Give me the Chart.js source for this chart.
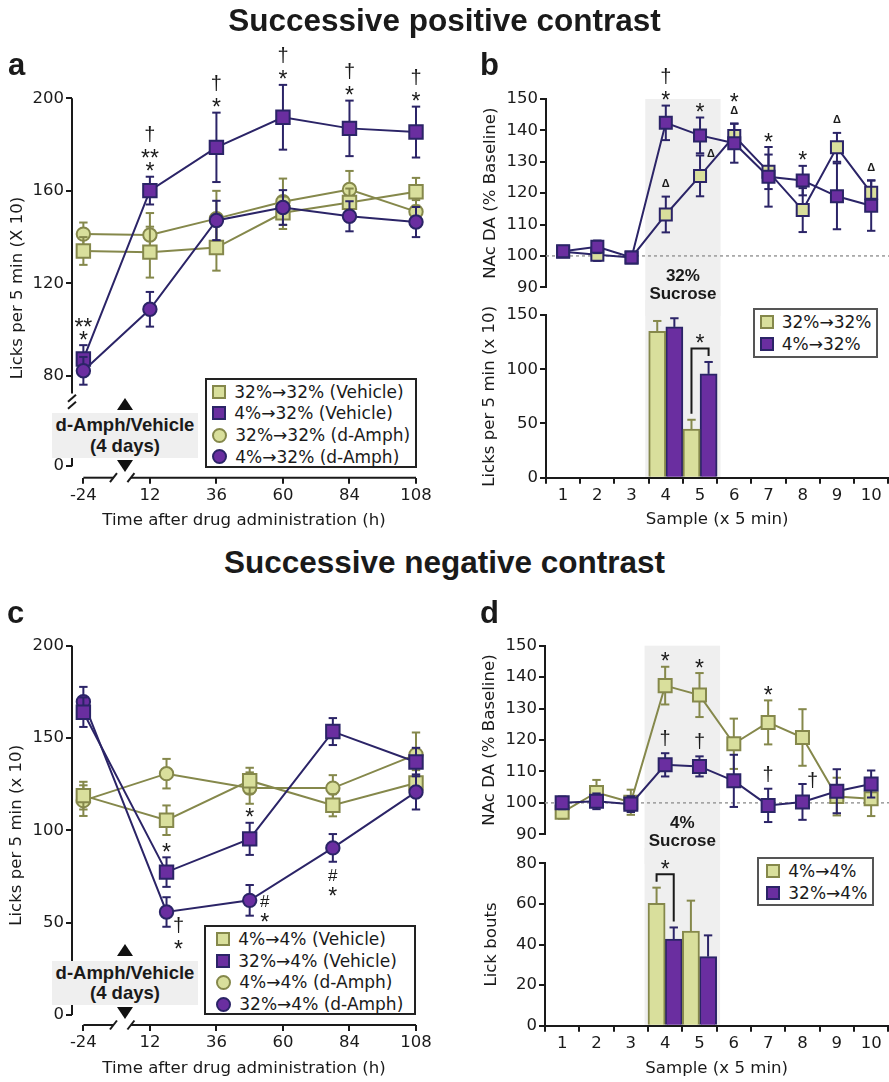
<!DOCTYPE html>
<html>
<head>
<meta charset="utf-8">
<script src="https://cdn.jsdelivr.net/npm/chart.js@4.4.0/dist/chart.umd.min.js"></script>
<style>
body { margin: 0; background: #fff; }
#fig { position: relative; width: 889px; height: 1082px; overflow: hidden; font-family: "Liberation Sans", Arial, sans-serif; color: #1a1a1a; }
#fig canvas { position: absolute; }
.ttl { position: absolute; left: 0; width: 889px; text-align: center; font-weight: bold; font-size: 31.5px; line-height: 1; }
.let { position: absolute; font-weight: bold; font-size: 31px; line-height: 1; }
.drug { position: absolute; box-sizing: border-box; background: #efefef; font-weight: bold; font-size: 18.5px; line-height: 20.7px; text-align: center; padding-top: 2px; }
.up, .dn { position: absolute; width: 0; height: 0; border-left: 8px solid transparent; border-right: 8px solid transparent; }
.up { border-bottom: 12px solid #111; }
.dn { border-top: 12px solid #111; }
.lg { position: absolute; box-sizing: border-box; border: 2px solid #222; background: #fff; font-family: "DejaVu Sans"; font-size: 17px; }
.lg.gr { border-color: #555; }
.row { display: flex; align-items: center; white-space: nowrap; }
.mk { box-sizing: border-box; border: 2px solid; width: 14px; height: 14px; margin-right: 8px; flex: none; }
.mk.ci { border-radius: 50%; width: 15px; height: 15px; }
.g { background: #d9df9c; border-color: #85884b; }
.p { background: #6a2ea0; border-color: #2b2467; }
</style>
</head>
<body>
<div id="fig">
  <canvas id="ca" width="445" height="500" style="left:0;top:35px"></canvas>
  <canvas id="cbTop" width="444" height="276" style="left:445px;top:40px"></canvas>
  <canvas id="cbBot" width="444" height="240" style="left:445px;top:300px"></canvas>
  <canvas id="cc" width="445" height="482" style="left:0;top:600px"></canvas>
  <canvas id="cdTop" width="444" height="264" style="left:445px;top:600px"></canvas>
  <canvas id="cdBot" width="444" height="234" style="left:445px;top:848px"></canvas>

  <div class="ttl" style="top:5px">Successive positive contrast</div>
  <div class="ttl" style="top:547px">Successive negative contrast</div>
  <div class="let" style="left:8px;top:49px">a</div>
  <div class="let" style="left:480px;top:49px">b</div>
  <div class="let" style="left:7px;top:597px">c</div>
  <div class="let" style="left:480px;top:597px">d</div>

  <div class="up" style="left:117px;top:398px"></div>
  <div class="drug" style="left:51.7px;top:413.3px;width:146.6px;height:45px">d-Amph/Vehicle<br>(4 days)</div>
  <div class="dn" style="left:117px;top:460px"></div>

  <div class="up" style="left:117px;top:944px"></div>
  <div class="drug" style="left:51.7px;top:960.7px;width:146.6px;height:44px">d-Amph/Vehicle<br>(4 days)</div>
  <div class="dn" style="left:117px;top:1007px"></div>

  <div class="lg" style="left:205px;top:377.7px;width:212px;height:90.3px;padding:1.2px 0 0 5.3px">
    <div class="row" style="height:21.7px"><i class="mk g"></i>32%→32% (Vehicle)</div>
    <div class="row" style="height:21.7px"><i class="mk p"></i>4%→32% (Vehicle)</div>
    <div class="row" style="height:21.7px"><i class="mk ci g"></i>32%→32% (d-Amph)</div>
    <div class="row" style="height:21.7px"><i class="mk ci p"></i>4%→32% (d-Amph)</div>
  </div>
  <div class="lg" style="left:204px;top:925px;width:212px;height:90px;padding:1.2px 0 0 10.3px">
    <div class="row" style="height:21.7px"><i class="mk g"></i>4%→4% (Vehicle)</div>
    <div class="row" style="height:21.7px"><i class="mk p"></i>32%→4% (Vehicle)</div>
    <div class="row" style="height:21.7px"><i class="mk ci g"></i>4%→4% (d-Amph)</div>
    <div class="row" style="height:21.7px"><i class="mk ci p"></i>32%→4% (d-Amph)</div>
  </div>
  <div class="lg gr" style="left:753.3px;top:308.3px;width:125px;height:50px;padding:1px 0 0 4.4px">
    <div class="row" style="height:22px"><i class="mk g"></i>32%→32%</div>
    <div class="row" style="height:22px"><i class="mk p"></i>4%→32%</div>
  </div>
  <div class="lg gr" style="left:756.7px;top:856.7px;width:117.6px;height:49.3px;padding:1px 0 0 7.6px">
    <div class="row" style="height:22px"><i class="mk g"></i>4%→4%</div>
    <div class="row" style="height:22px"><i class="mk p"></i>32%→4%</div>
  </div>
</div>

<script>
// ---- panel a: licks, successive positive contrast ----
const aTimes = [-24, 12, 36, 60, 84, 108];
const aVeh32 = [134, 133.5, 135.5, 150.5, 155, 159.6];
const aVeh32Err = [6, 11, 10, 7, 6, 6];
const aVeh4 = [87.3, 160.1, 178.8, 191.8, 187, 185.4];
const aVeh4Err = [6, 6, 15, 14, 12, 11];
const aAmph32 = [141.3, 140.9, 148, 155.3, 160.6, 151];
const aAmph32Err = [5, 9.5, 12, 10, 8, 5];
const aAmph4 = [82.2, 108.8, 147.2, 152.8, 149, 146.5];
const aAmph4Err = [6, 7.5, 8.5, 7.5, 6.5, 6.5];
const aYTicks = [0, 80, 120, 160, 200];
const aSig = [['*', '**'], ['*', '**', '†'], ['*', '†'], ['*', '†'], ['*', '†'], ['*', '†']];

// ---- panel b: NAc dopamine and licks per sample ----
const samples = ['1', '2', '3', '4', '5', '6', '7', '8', '9', '10'];
const bDA32 = [101.3, 100.4, 99.5, 113.2, 125.5, 138.2, 126.8, 114.6, 134.6, 120.1];
const bDA32Err = [1.5, 2, 1.5, 5.7, 6.5, 4, 5.5, 7, 4.6, 4];
const bDA4 = [101.5, 102.9, 99.5, 142.4, 138.4, 135.9, 125.2, 124, 119, 116];
const bDA4Err = [1.5, 2, 1.5, 5.5, 5.7, 6.2, 9.5, 4.7, 10.5, 8];
const bLicks32 = [null, null, null, 135, 44.8, null, null, null, null, null];
const bLicks32Err = [null, null, null, 9.5, 8.6, null, null, null, null, null];
const bLicks4 = [null, null, null, 139, 95.7, null, null, null, null, null];
const bLicks4Err = [null, null, null, 8, 11, null, null, null, null, null];

// ---- panel c: licks, successive negative contrast ----
const cTimes = [-24, 18, 48, 78, 108];
const cVeh4 = [118.8, 105.5, 126.9, 113.6, 125.6];
const cVeh4Err = [7.5, 8, 7, 6, 7];
const cVeh32 = [164, 77.4, 95.4, 153.5, 137];
const cVeh32Err = [8, 8, 8.7, 7.3, 7.7];
const cAmph4 = [116.1, 130.7, 122.9, 122.9, 141];
const cAmph4Err = [8.3, 8, 8.5, 7, 12];
const cAmph32 = [169.7, 55.8, 62.1, 90.5, 120.8];
const cAmph32Err = [8, 8, 8.3, 7.5, 9.5];
const cYTicks = [0, 50, 100, 150, 200];
const timeTicks = [-24, 12, 36, 60, 84, 108];

// ---- panel d: NAc dopamine and lick bouts ----
const dDA4 = [97, 103.3, 100.2, 137.3, 134.3, 118.8, 125.6, 120.8, 102, 101.3];
const dDA4Err = [2, 4, 4, 6, 7, 8, 7, 9, 6, 5.5];
const dDA32 = [100, 100.5, 99.6, 112.1, 111.6, 107, 99.2, 100.3, 103.7, 106];
const dDA32Err = [2, 2.5, 2.5, 3.7, 3.2, 8.3, 5.3, 5.7, 7, 4.3];
const dBouts4 = [null, null, null, 60.3, 46.6, null, null, null, null, null];
const dBouts4Err = [null, null, null, 7.7, 15, null, null, null, null, null];
const dBouts32 = [null, null, null, 42.7, 34, null, null, null, null, null];
const dBouts32Err = [null, null, null, 5.7, 10.5, null, null, null, null, null];

const GREEN = '#d9df9c', OLIVE = '#85884b', PURPLE = '#6a2ea0', NAVY = '#2b2467';
const INK = '#1a1a1a', BAND = '#efefef';
const TICK_FS = 16.5, AX_FS = 16.6, CAP = 4.2;

Chart.defaults.font.family = '"DejaVu Sans"';
Chart.defaults.color = INK;

// broken time axis: the pre-drug day sits at half distance
const brkT = t => (t < 0 ? t / 2 : t);
// broken licks axis in panel a: 0 is drawn just under the break
const aZero = 41;
const brkA = v => (v === 0 ? aZero : v);

const GL = {
  '*': { font: '23px "Liberation Sans"', h: 9, first: 10 },
  '**': { font: '23px "Liberation Sans"', h: 9, first: 10 },
  '†': { font: '20px "Liberation Sans"', h: 22, first: 15 },
  '#': { font: '17px "Liberation Sans"', h: 16, first: 13 },
  'Δ': { font: 'bold 11px "Liberation Sans"', h: 9, first: 13.5 }
};

function line(ctx, x1, y1, x2, y2) {
  ctx.beginPath(); ctx.moveTo(x1, y1); ctx.lineTo(x2, y2); ctx.stroke();
}
function glyph(ctx, txt, cx, cy, font) {
  ctx.font = font;
  ctx.textAlign = 'center';
  ctx.textBaseline = 'alphabetic';
  const m = ctx.measureText(txt);
  ctx.fillText(txt, cx, cy + (m.actualBoundingBoxAscent - m.actualBoundingBoxDescent) / 2);
}
function errBars(chart, meta, ds, full) {
  const ctx = chart.ctx, y = chart.scales[meta.yAxisID];
  ctx.save();
  ctx.strokeStyle = ds.errColor;
  ctx.lineWidth = 2;
  meta.data.forEach((el, i) => {
    const p = meta._parsed[i];
    const e = ds.err[i];
    if (!p || p.y == null || isNaN(p.y) || !e) return;
    const yt = y.getPixelForValue(p.y + e);
    const yb = y.getPixelForValue(full ? p.y - e : p.y);
    line(ctx, el.x, yt, el.x, yb);
    line(ctx, el.x - CAP, yt, el.x + CAP, yt);
    if (full) line(ctx, el.x - CAP, yb, el.x + CAP, yb);
  });
  ctx.restore();
}

const decor = {
  id: 'decor',
  beforeDraw(chart, args, o) {
    if (!o.band) return;
    const ctx = chart.ctx, ca = chart.chartArea, x = chart.scales.x;
    const step = x.getPixelForValue(1) - x.getPixelForValue(0);
    const x0 = x.getPixelForValue(o.band.from) - step * 0.6;
    const x1 = x.getPixelForValue(o.band.to) + step * 0.6;
    const y0 = o.band.down ? ca.top : 0;
    const y1 = o.band.down ? chart.height : ca.bottom;
    ctx.save();
    ctx.fillStyle = BAND;
    ctx.fillRect(x0, y0, x1 - x0, y1 - y0);
    if (o.band.text) {
      ctx.fillStyle = INK;
      glyph(ctx, o.band.text[0], (x0 + x1) / 2, ca.bottom - 12.5, 'bold 17px "Liberation Sans"');
      glyph(ctx, o.band.text[1], (x0 + x1) / 2, ca.bottom + 5.5, 'bold 17px "Liberation Sans"');
    }
    ctx.restore();
  },
  beforeDatasetsDraw(chart, args, o) {
    const ctx = chart.ctx, ca = chart.chartArea, x = chart.scales.x, y = chart.scales.y;
    ctx.save();
    if (o.baseline != null) {
      const yy = y.getPixelForValue(o.baseline);
      ctx.strokeStyle = '#9a9a9a';
      ctx.lineWidth = 1.5;
      ctx.setLineDash([3, 3]);
      line(ctx, ca.left, yy, chart.width, yy);
      ctx.setLineDash([]);
    }
    if (o.axes) {
      const ax = o.axes;
      ctx.strokeStyle = INK;
      ctx.lineWidth = 2;
      ax.y.forEach(([a, b]) => line(ctx, ca.left, y.getPixelForValue(a), ca.left, y.getPixelForValue(b)));
      ax.x.forEach(([a, b]) => line(ctx, x.getPixelForValue(a), ca.bottom, x.getPixelForValue(b), ca.bottom));
      (ax.yCuts || []).forEach(v => {
        const yy = y.getPixelForValue(v);
        [4.7, 11.7].forEach(d => line(ctx, ca.left - 4, yy + d + 3.5, ca.left + 4, yy + d - 3.5));
      });
      (ax.xCuts || []).forEach(v => {
        const xx = x.getPixelForValue(v);
        line(ctx, xx - 3.5, ca.bottom + 4.5, xx + 3.5, ca.bottom - 4.5);
      });
    }
    ctx.restore();
  },
  beforeDatasetDraw(chart, args) {
    const ds = chart.data.datasets[args.index];
    if (ds.err && args.meta.type === 'line') errBars(chart, args.meta, ds, true);
  },
  afterDatasetDraw(chart, args) {
    const ds = chart.data.datasets[args.index];
    if (ds.err && args.meta.type === 'bar') errBars(chart, args.meta, ds, false);
  },
  afterDraw(chart, args, o) {
    const ctx = chart.ctx, y = chart.scales.y;
    ctx.save();
    ctx.fillStyle = INK;
    (o.sig || []).forEach(s => {
      const di = chart.data.datasets.findIndex(d => d.label === s.ds);
      const meta = chart.getDatasetMeta(di), ds = chart.data.datasets[di];
      const el = meta.data[s.i], v = meta._parsed[s.i].y, e = ds.err[s.i];
      const pos = s.pos || 'up';
      let base, dir, cy, prev = null;
      if (pos === 'up') { base = y.getPixelForValue(v + e); dir = -1; }
      else if (pos === 'down') { base = y.getPixelForValue(v - e); dir = 1; }
      else { base = el.y + s.dy; dir = 1; }
      const cx = el.x + (s.dx || 0);
      s.t.forEach((g, k) => {
        const m = GL[g];
        if (k === 0) cy = pos === 'side' ? base : base + dir * m.first;
        else cy += dir * ((GL[prev].h + m.h) / 2 + 4);
        glyph(ctx, g, cx, cy, m.font);
        prev = g;
      });
    });
    (o.brackets || []).forEach(b => {
      const da = chart.data.datasets[b.a], db = chart.data.datasets[b.b];
      const xa = chart.getDatasetMeta(b.a).data[b.i].x, xb = chart.getDatasetMeta(b.b).data[b.i].x;
      const ya = y.getPixelForValue(da.data[b.i] + da.err[b.i]) - 6;
      const yb = y.getPixelForValue(db.data[b.i] + db.err[b.i]) - 6;
      const top = Math.min(ya, yb) - 7.5;
      ctx.strokeStyle = INK;
      ctx.lineWidth = 2;
      ctx.beginPath(); ctx.moveTo(xa, ya); ctx.lineTo(xa, top); ctx.lineTo(xb, top); ctx.lineTo(xb, yb); ctx.stroke();
      glyph(ctx, '*', (xa + xb) / 2, top - 10, GL['*'].font);
    });
    ctx.restore();
  }
};

// canvas box [left, top, w, h] and wanted plot area [left, top, right, bottom], page pixels
function frame(box, area, yTitleX, xTitleY) {
  const lh = AX_FS * 1.2;
  const yEdge = yTitleX - lh / 2;
  const xEdge = xTitleY ? xTitleY + lh / 2 : area[3];
  return {
    padding: { left: yEdge - box[0], top: area[1] - box[1], right: box[0] + box[2] - area[2], bottom: box[1] + box[3] - xEdge },
    yWidth: area[0] - yEdge,
    xHeight: xEdge - area[3]
  };
}

const tickFont = { size: TICK_FS, family: '"DejaVu Sans"' };
const titleOf = text => ({ display: true, text, font: { size: AX_FS, family: '"DejaVu Sans"' }, color: INK, padding: 0 });
const tickGrid = { drawOnChartArea: false, drawTicks: true, tickLength: 6, color: INK, lineWidth: 2 };

function lineSet(label, times, vals, err, style, fill, stroke, r) {
  return {
    label, err, errColor: stroke,
    data: times ? times.map((t, i) => ({ x: brkT(t), y: vals[i] })) : vals,
    borderColor: stroke, borderWidth: 2, tension: 0, clip: false,
    pointStyle: style, pointRadius: r, pointHoverRadius: r,
    pointBackgroundColor: fill, pointBorderColor: stroke, pointBorderWidth: 2
  };
}
function barSet(label, vals, err, fill, stroke) {
  return {
    label, data: vals, err, errColor: stroke,
    backgroundColor: fill, borderColor: stroke, borderWidth: 2,
    categoryPercentage: 1, barPercentage: 1
  };
}
function baseOpts(f, decorOpts, scales) {
  return {
    responsive: false, animation: false, devicePixelRatio: 1,
    layout: { autoPadding: false, padding: f.padding },
    plugins: { legend: { display: false }, tooltip: { enabled: false }, decor: decorOpts },
    scales
  };
}

function timeChart(id, f, datasets, yTicks, yMin, yMax, yMap, yTitle, decorOpts) {
  return new Chart(document.getElementById(id), {
    type: 'line',
    data: { datasets },
    options: baseOpts(f, decorOpts, {
      x: {
        type: 'linear', min: -16.1, max: 108,
        afterBuildTicks: s => { s.ticks = timeTicks.map(t => ({ value: brkT(t) })); },
        afterFit: s => { s.height = f.xHeight; },
        ticks: { font: tickFont, color: INK, padding: 2, autoSkip: false, maxRotation: 0, callback: v => (v < 0 ? v * 2 : v) },
        grid: tickGrid, border: { display: false },
        title: titleOf('Time after drug administration (h)')
      },
      y: {
        min: yMin, max: yMax,
        afterBuildTicks: s => { s.ticks = yTicks.map(v => ({ value: yMap(v) })); },
        afterFit: s => { s.width = f.yWidth; },
        ticks: { font: tickFont, color: INK, padding: 2, callback: v => (yTicks.includes(v) ? v : 0) },
        grid: tickGrid, border: { display: false },
        title: titleOf(yTitle)
      }
    })
  });
}

function daChart(id, f, datasets, decorOpts) {
  return new Chart(document.getElementById(id), {
    type: 'line',
    data: { labels: samples, datasets },
    options: baseOpts(f, decorOpts, {
      x: { type: 'category', offset: true, display: false },
      y: {
        min: 90, max: 150,
        afterFit: s => { s.width = f.yWidth; },
        ticks: { font: tickFont, color: INK, padding: 2, stepSize: 10 },
        grid: tickGrid, border: { display: true, color: INK, width: 2 },
        title: titleOf('NAc DA (% Baseline)')
      }
    })
  });
}

function barChart(id, f, datasets, yMax, yStep, yTitle, decorOpts) {
  return new Chart(document.getElementById(id), {
    type: 'bar',
    data: { labels: samples, datasets },
    options: baseOpts(f, decorOpts, {
      x: {
        type: 'category', offset: true,
        afterFit: s => { s.height = f.xHeight; },
        ticks: { font: tickFont, color: INK, padding: 2, autoSkip: false, maxRotation: 0 },
        grid: Object.assign({ offset: true }, tickGrid), border: { display: true, color: INK, width: 2 },
        title: titleOf('Sample (x 5 min)')
      },
      y: {
        min: 0, max: yMax,
        afterFit: s => { s.width = f.yWidth; },
        ticks: { font: tickFont, color: INK, padding: 2, stepSize: yStep },
        grid: tickGrid, border: { display: true, color: INK, width: 2 },
        title: titleOf(yTitle)
      }
    })
  });
}

Chart.register(decor);

const xAxisSegs = [[brkT(-24), -1.14], [5.16, 108]];

// panel a (datasets listed topmost first)
timeChart('ca', frame([0, 35, 445, 500], [72, 98.3, 416, 477.7], 17.5, 521), [
  lineSet('4%→32% (d-Amph)', aTimes, aAmph4, aAmph4Err, 'circle', PURPLE, NAVY, 6.7),
  lineSet('4%→32% (Vehicle)', aTimes, aVeh4, aVeh4Err, 'rect', PURPLE, NAVY, 9.5),
  lineSet('32%→32% (Vehicle)', aTimes, aVeh32, aVeh32Err, 'rect', GREEN, OLIVE, 9.5),
  lineSet('32%→32% (d-Amph)', aTimes, aAmph32, aAmph32Err, 'circle', GREEN, OLIVE, 6.7)
], aYTicks, 36, 200, brkA, 'Licks per 5 min (X 10)', {
  axes: { y: [[200, 72.4], [50, aZero]], yCuts: [72.4], x: xAxisSegs, xCuts: [-1.14, 5.16] },
  sig: aSig.map((t, i) => ({ ds: '4%→32% (Vehicle)', i, t }))
});

// panel b, dopamine
daChart('cbTop', frame([445, 40, 444, 276], [546, 99, 888.3, 287.3], 490.5, null), [
  lineSet('4%→32%', null, bDA4, bDA4Err, 'rect', PURPLE, NAVY, 8.5),
  lineSet('32%→32%', null, bDA32, bDA32Err, 'rect', GREEN, NAVY, 8.5)
], {
  baseline: 100,
  band: { from: 3, to: 4, down: true, text: ['32%', 'Sucrose'] },
  sig: [
    { ds: '4%→32%', i: 3, t: ['*', '†'] },
    { ds: '4%→32%', i: 4, t: ['*'] },
    { ds: '4%→32%', i: 5, t: ['Δ', '*'] },
    { ds: '4%→32%', i: 6, t: ['*'] },
    { ds: '4%→32%', i: 7, t: ['*'] },
    { ds: '32%→32%', i: 3, t: ['Δ'] },
    { ds: '32%→32%', i: 4, t: ['Δ'], pos: 'side', dx: 11, dy: -23 },
    { ds: '32%→32%', i: 8, t: ['Δ'] },
    { ds: '32%→32%', i: 9, t: ['Δ'] }
  ]
});

// panel b, licks
barChart('cbBot', frame([445, 300, 444, 240], [546, 315, 888.3, 477.7], 490, 520), [
  barSet('32%→32%', bLicks32, bLicks32Err, GREEN, OLIVE),
  barSet('4%→32%', bLicks4, bLicks4Err, PURPLE, NAVY)
], 150, 50, 'Licks per 5 min (x 10)', {
  band: { from: 3, to: 4, down: false },
  brackets: [{ i: 4, a: 0, b: 1 }]
});

// panel c
timeChart('cc', frame([0, 600, 445, 482], [72, 645.7, 416, 1025], 17, 1068.3), [
  lineSet('32%→4% (Vehicle)', cTimes, cVeh32, cVeh32Err, 'rect', PURPLE, NAVY, 9.5),
  lineSet('32%→4% (d-Amph)', cTimes, cAmph32, cAmph32Err, 'circle', PURPLE, NAVY, 6.7),
  lineSet('4%→4% (Vehicle)', cTimes, cVeh4, cVeh4Err, 'rect', GREEN, OLIVE, 9.5),
  lineSet('4%→4% (d-Amph)', cTimes, cAmph4, cAmph4Err, 'circle', GREEN, OLIVE, 6.7)
], cYTicks, -5.4, 200, v => v, 'Licks per 5 min (x 10)', {
  axes: { y: [[200, 0]], x: xAxisSegs, xCuts: [-1.14, 5.16] },
  sig: [
    { ds: '32%→4% (Vehicle)', i: 1, t: ['*'] },
    { ds: '32%→4% (Vehicle)', i: 2, t: ['*'] },
    { ds: '32%→4% (d-Amph)', i: 1, t: ['†', '*'], pos: 'side', dx: 12, dy: 13 },
    { ds: '32%→4% (d-Amph)', i: 2, t: ['#', '*'], pos: 'side', dx: 15, dy: 1 },
    { ds: '32%→4% (d-Amph)', i: 3, t: ['#', '*'], pos: 'down' }
  ]
});

// panel d, dopamine
daChart('cdTop', frame([445, 600, 444, 264], [545, 645.7, 888.3, 834.3], 490, null), [
  lineSet('32%→4%', null, dDA32, dDA32Err, 'rect', PURPLE, NAVY, 9.2),
  lineSet('4%→4%', null, dDA4, dDA4Err, 'rect', GREEN, OLIVE, 9.2)
], {
  baseline: 100,
  band: { from: 3, to: 4, down: true, text: ['4%', 'Sucrose'] },
  sig: [
    { ds: '4%→4%', i: 3, t: ['*'] },
    { ds: '4%→4%', i: 4, t: ['*'] },
    { ds: '4%→4%', i: 6, t: ['*'] },
    { ds: '32%→4%', i: 3, t: ['†'] },
    { ds: '32%→4%', i: 4, t: ['†'] },
    { ds: '32%→4%', i: 6, t: ['†'] },
    { ds: '32%→4%', i: 7, t: ['†'], pos: 'side', dx: 10, dy: -22 }
  ]
});

// panel d, lick bouts
barChart('cdBot', frame([445, 848, 444, 234], [545, 863.3, 888.3, 1025.7], 491.7, 1068.3), [
  barSet('4%→4%', dBouts4, dBouts4Err, GREEN, OLIVE),
  barSet('32%→4%', dBouts32, dBouts32Err, PURPLE, NAVY)
], 80, 20, 'Lick bouts', {
  band: { from: 3, to: 4, down: false },
  brackets: [{ i: 3, a: 0, b: 1 }]
});
</script>
</body>
</html>
